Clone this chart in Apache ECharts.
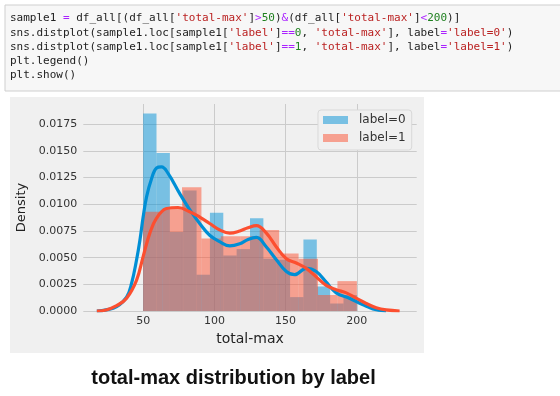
<!DOCTYPE html>
<html>
<head>
<meta charset="utf-8">
<script src="https://cdn.jsdelivr.net/npm/echarts@6/dist/echarts.min.js"></script>
<style>
  html, body { margin: 0; padding: 0; background: #fff; }
  #chart { width: 560px; height: 396px; }
</style>
</head>
<body>
<div id="chart"></div>
<script>
// histogram bin edges and densities
const blueEdges = [50, 59.38, 68.75, 78.13, 87.5, 96.88, 106.25, 115.63, 125, 134.38, 143.75, 153.13, 162.5, 171.88, 181.25, 190.63, 200]
const blueDensity = [0.0185, 0.0148, 0.0074, 0.0113, 0.0034, 0.0092, 0.0052, 0.0058, 0.0087, 0.0049, 0.0048, 0.0013, 0.0067, 0.0023, 0.0007, 0.0015]
const redEdges = [50, 63.64, 77.27, 90.91, 104.55, 118.18, 131.82, 145.45, 159.09, 172.73, 186.36, 200]
const redDensity = [0.0093, 0.0096, 0.0116, 0.0068, 0.0070, 0.0070, 0.0076, 0.0054, 0.0049, 0.0015, 0.0028]

// kde curves [total-max, density]
const blueKde = [[17.5, 0], [24, 0.0001], [31.4, 0.0004], [38.4, 0.0013], [41.9, 0.0026], [45.4, 0.0048], [47.7, 0.0066], [50, 0.0088], [52.4, 0.0107], [55.9, 0.0124], [59.4, 0.0134], [62.9, 0.0135], [67.5, 0.0129], [75.7, 0.0110], [82.7, 0.0095], [89.7, 0.0082], [96.7, 0.0071], [103.7, 0.0065], [110.8, 0.0061], [117.8, 0.0063], [123.6, 0.0067], [129.5, 0.0069], [136.5, 0.0060], [143.5, 0.0048], [150.5, 0.0037], [156.3, 0.0034], [164.5, 0.0040], [171.5, 0.0037], [178.5, 0.0027], [185.5, 0.0017], [194.8, 0.0012], [204, 0.0006], [211.2, 0.0002], [220.5, 0]]
const redKde = [[17.5, 0], [24, 0.0001], [31.4, 0.0005], [38.4, 0.0012], [45.4, 0.0029], [50, 0.0051], [54.7, 0.0073], [59.4, 0.0087], [66.4, 0.0096], [74.5, 0.0097], [82.7, 0.0093], [89.7, 0.0088], [96.7, 0.0082], [103.7, 0.0076], [110.8, 0.0073], [117.8, 0.0075], [123.6, 0.0078], [129.5, 0.0080], [136.5, 0.0073], [143.5, 0.0060], [150.5, 0.0049], [157.5, 0.0045], [164.5, 0.0040], [171.5, 0.0032], [178.5, 0.0024], [185.5, 0.0020], [192.6, 0.0017], [199.6, 0.0012], [206.6, 0.0007], [213.6, 0.0003], [220.6, 0.0001], [230, 0]]

const xTicks = [50, 100, 150, 200]
const yTicks = [0, 0.0025, 0.005, 0.0075, 0.01, 0.0125, 0.015, 0.0175]

const blue = '#008fd5'
const red = '#fc4f30'
const blueBar = 'rgba(0,143,213,0.5)'
const redBar = 'rgba(252,79,48,0.5)'

// code cell above the plot
const codeLines = [
  [['n', 'sample1 '], ['o', '='], ['n', ' df_all[(df_all['], ['s', "'total-max'"], ['n', ']'], ['o', '>'], ['m', '50'], ['n', ')'], ['o', '&'], ['n', '(df_all['], ['s', "'total-max'"], ['n', ']'], ['o', '<'], ['m', '200'], ['n', ')]']],
  [['n', 'sns.distplot(sample1.loc[sample1['], ['s', "'label'"], ['n', ']'], ['o', '=='], ['m', '0'], ['n', ', '], ['s', "'total-max'"], ['n', '], label'], ['o', '='], ['s', "'label=0'"], ['n', ')']],
  [['n', 'sns.distplot(sample1.loc[sample1['], ['s', "'label'"], ['n', ']'], ['o', '=='], ['m', '1'], ['n', ', '], ['s', "'total-max'"], ['n', '], label'], ['o', '='], ['s', "'label=1'"], ['n', ')']],
  [['n', 'plt.legend()']],
  [['n', 'plt.show()']]
]
const codeFont = '11px "DejaVu Sans Mono"'
const codeRich = {
  n: { fill: '#222', font: codeFont },
  s: { fill: '#ba2121', font: codeFont },
  m: { fill: '#208020', font: codeFont },
  o: { fill: '#aa22ff', font: codeFont }
}

function histItem(color) {
  return function (params, api) {
    const p0 = api.coord([api.value(0), api.value(2)])
    const p1 = api.coord([api.value(1), 0])
    return {
      type: 'rect',
      shape: { x: p0[0], y: p0[1], width: p1[0] - p0[0], height: p1[1] - p0[1] },
      style: { fill: color }
    }
  }
}

const chart = echarts.init(document.getElementById('chart'))
const option = {
  animation: false,
  graphic: [
    { type: 'rect', z: -10, shape: { x: 5, y: 5, width: 570, height: 86 }, style: { fill: '#f7f7f7', stroke: '#cfcfcf', lineWidth: 1 } },
    { type: 'rect', z: -10, shape: { x: 10, y: 97, width: 414, height: 256 }, style: { fill: '#f0f0f0' } },
    ...codeLines.map((line, i) => ({
      type: 'text',
      z: 10,
      x: 10,
      y: 18.5 + i * 14.2,
      style: {
        text: line.map(t => '{' + t[0] + '|' + t[1] + '}').join(''),
        rich: codeRich,
        font: codeFont,
        verticalAlign: 'middle'
      }
    })),
    {
      type: 'text', z: 10, x: 233.5, y: 378,
      style: {
        text: 'total-max distribution by label',
        font: 'bold 20px "Liberation Sans", Arial, sans-serif',
        fill: '#111',
        align: 'center',
        verticalAlign: 'middle'
      }
    }
  ],
  grid: { left: 83.3, right: 143.3, top: 104, bottom: 85 },
  legend: {
    orient: 'vertical',
    left: 318,
    top: 110,
    padding: [3, 6, 5, 5],
    itemWidth: 25,
    itemHeight: 8,
    itemGap: 4,
    backgroundColor: '#f0f0f0',
    borderColor: '#d9d9d9',
    borderWidth: 1,
    borderRadius: 3,
    textStyle: { fontFamily: 'DejaVu Sans', fontSize: 12, lineHeight: 14, color: '#333', padding: [0, 0, 0, 6] },
    data: [
      { name: 'label=0', icon: 'rect' },
      { name: 'label=1', icon: 'rect' }
    ]
  },
  xAxis: {
    type: 'value',
    min: 8,
    max: 242,
    name: 'total-max',
    nameLocation: 'middle',
    nameGap: 20,
    nameTextStyle: { fontFamily: 'DejaVu Sans', fontSize: 14, color: '#222' },
    axisLine: { show: false },
    axisTick: { show: false, customValues: xTicks },
    axisLabel: { customValues: xTicks, margin: 5, fontFamily: 'DejaVu Sans', fontSize: 11, color: '#333' },
    splitLine: { show: true, lineStyle: { color: '#cbcbcb', width: 1 } }
  },
  yAxis: {
    type: 'value',
    min: 0,
    max: 0.0194,
    name: 'Density',
    nameLocation: 'middle',
    nameGap: 50,
    nameTextStyle: { fontFamily: 'DejaVu Sans', fontSize: 13, color: '#222' },
    axisLine: { show: false },
    axisTick: { show: false, customValues: yTicks },
    axisLabel: { customValues: yTicks, margin: 6, fontFamily: 'DejaVu Sans', fontSize: 11, color: '#333', formatter: v => v.toFixed(4) },
    splitLine: { show: true, lineStyle: { color: '#cbcbcb', width: 1 } }
  },
  series: [
    {
      name: 'label=0',
      type: 'custom',
      itemStyle: { color: blueBar },
      renderItem: histItem(blueBar),
      encode: { x: [0, 1], y: 2 },
      data: blueDensity.map((d, i) => [blueEdges[i], blueEdges[i + 1], d])
    },
    {
      name: 'kde0',
      type: 'line',
      data: blueKde,
      smooth: 0.4,
      showSymbol: false,
      lineStyle: { color: blue, width: 3.2 },
      itemStyle: { color: blue }
    },
    {
      name: 'label=1',
      type: 'custom',
      itemStyle: { color: redBar },
      renderItem: histItem(redBar),
      encode: { x: [0, 1], y: 2 },
      data: redDensity.map((d, i) => [redEdges[i], redEdges[i + 1], d])
    },
    {
      name: 'kde1',
      type: 'line',
      data: redKde,
      smooth: 0.4,
      showSymbol: false,
      lineStyle: { color: red, width: 3.2 },
      itemStyle: { color: red }
    }
  ]
}
chart.setOption(option)
</script>
</body>
</html>
